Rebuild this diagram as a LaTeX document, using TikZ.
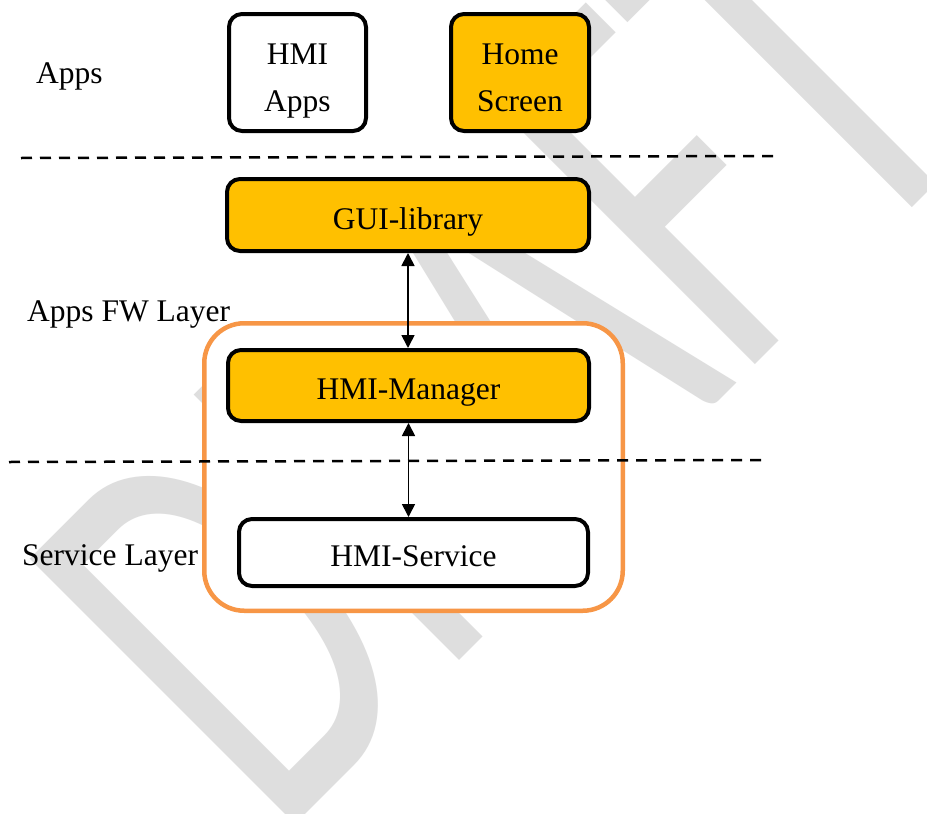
\documentclass[tikz,border=0pt]{standalone}
\usepackage{fontspec}
\setmainfont{Liberation Serif}
\newfontfamily\wmfont{Carlito}
\usepackage{graphicx}
\usetikzlibrary{arrows.meta}
\definecolor{gold}{RGB}{255,192,0}
\definecolor{orangeline}{RGB}{247,150,70}
\definecolor{wmgray}{RGB}{222,222,222}
\newcommand\boxfont{\fontsize{31.5}{38}\selectfont}
\newcommand\twolines[2]{\vbox{\baselineskip=47pt\lineskiplimit=-100pt\halign{\hfil##\hfil\cr #1\cr #2\cr}}}
\begin{document}
\begin{tikzpicture}[x=1pt,y=-1pt,
  box/.style={draw=black, line width=4pt, rounded corners=13pt, inner sep=0pt,
    font=\boxfont, text height=28pt, text depth=0pt},
  goldbox/.style={box, fill=gold},
  whitebox/.style={box, fill=white},
  groupbox/.style={draw=orangeline, line width=4.5pt, fill=white, rounded corners=40pt, inner sep=0pt},
  layerlabel/.style={font=\boxfont, anchor=base west, inner sep=0pt},
  divider/.style={line width=2.5pt, dash pattern=on 11pt off 8pt},
  link/.style={line width=1.7pt, {Triangle[width=13pt,length=13pt]}-{Triangle[width=13pt,length=13pt]}},
  watermark/.style={rotate=45, anchor=base west, inner sep=0pt, text=wmgray, font=\wmfont}
]
\useasboundingbox (0,0) rectangle (927,814);
\fill[white] (0,0) rectangle (927,814);

% watermark
\node[watermark] (wm) at (277,843) {\scalebox{1}[1.56]{\fontsize{375}{375}\selectfont DRAFT}};

% group frame
\node[groupbox, minimum width=418.5pt, minimum height=287.5pt] (group) at (413.5,467) {};

% dividers
\coordinate (d1a) at (21,158);
\coordinate (d1b) at (776,156);
\coordinate (d2a) at (9,462);
\coordinate (d2b) at (763,460);
\draw[divider] (d1a) -- (d1b);
\draw[divider] (d2a) -- (d2b);

% boxes
\node[whitebox, minimum width=137pt, minimum height=117pt, text height=77pt] (hmiapps) at (297.5,72.5) {\twolines{HMI}{Apps}};
\node[goldbox, minimum width=138pt, minimum height=117pt, text height=77pt] (home) at (520,72.5) {\twolines{Home}{Screen}};
\node[goldbox, minimum width=362pt, minimum height=72pt] (gui) at (408,215) {GUI-library};
\node[goldbox, minimum width=361pt, minimum height=71pt] (mgr) at (408.5,385.5) {HMI-Manager};
\node[whitebox, minimum width=349pt, minimum height=67pt] (svc) at (413.5,552.5) {HMI-Service};

% connectors
\draw[link] (gui.south) -- (gui.south |- mgr.north);
\draw[link] (mgr.south) -- (mgr.south |- svc.north);

% layer labels
\node[layerlabel] (appsL) at (36,83) {Apps};
\node[layerlabel] (fwL) at (27,321) {Apps FW Layer};
\node[layerlabel] (svcL) at (22,565) {Service Layer};
\end{tikzpicture}
\end{document}
